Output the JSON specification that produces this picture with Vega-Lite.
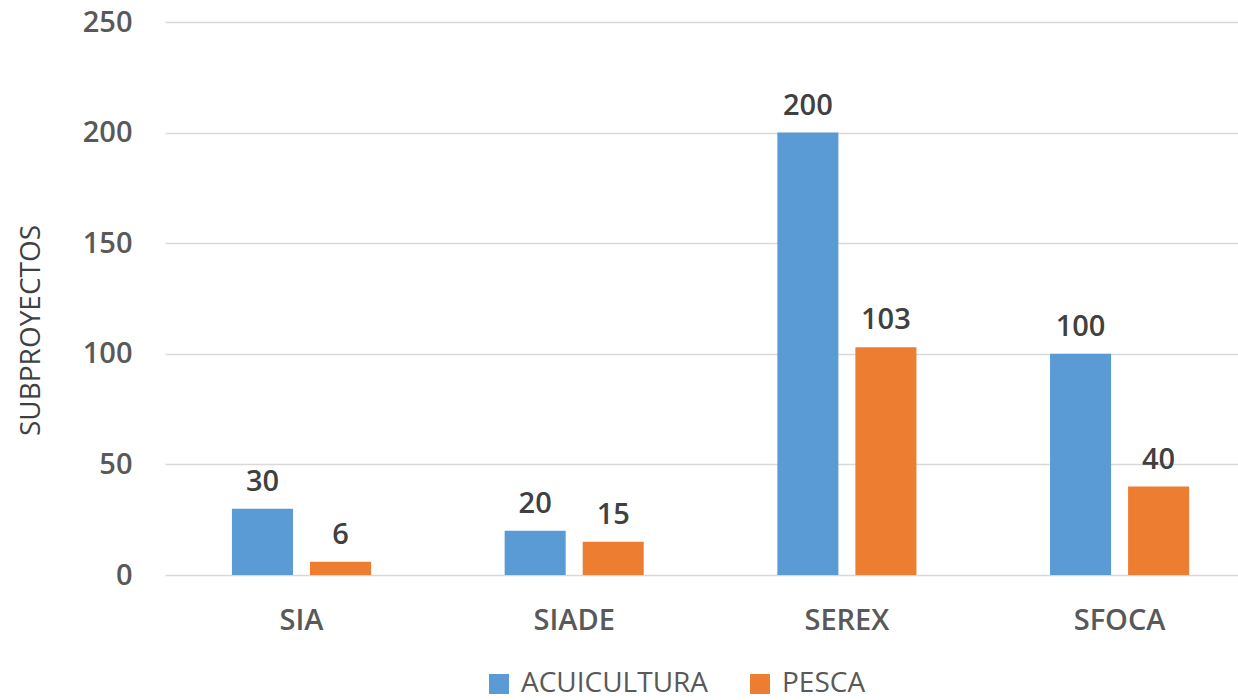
{
  "$schema": "https://vega.github.io/schema/vega-lite/v6.json",
  "width": 1073,
  "height": 553,
  "autosize": {"type": "none"},
  "padding": {"left": 165, "top": 22, "right": 0, "bottom": 125},
  "background": "white",
  "config": {"view": {"stroke": null}, "font": "Open Sans"},
  "data": {
    "values": [
      {"categoria": "SIA", "tipo": "ACUICULTURA", "valor": 30},
      {"categoria": "SIA", "tipo": "PESCA", "valor": 6},
      {"categoria": "SIADE", "tipo": "ACUICULTURA", "valor": 20},
      {"categoria": "SIADE", "tipo": "PESCA", "valor": 15},
      {"categoria": "SEREX", "tipo": "ACUICULTURA", "valor": 200},
      {"categoria": "SEREX", "tipo": "PESCA", "valor": 103},
      {"categoria": "SFOCA", "tipo": "ACUICULTURA", "valor": 100},
      {"categoria": "SFOCA", "tipo": "PESCA", "valor": 40}
    ]
  },
  "encoding": {
    "x": {
      "field": "categoria",
      "type": "nominal",
      "sort": ["SIA", "SIADE", "SEREX", "SFOCA"],
      "scale": {"paddingInner": 0.49, "paddingOuter": 0.2124, "align": 0.578},
      "axis": {
        "title": null,
        "labelAngle": 0,
        "domain": false,
        "ticks": false,
        "labelPadding": 31,
        "labelFont": "Open Sans",
        "labelFontSize": 29,
        "labelFontWeight": 600,
        "labelColor": "#595959"
      }
    },
    "xOffset": {
      "field": "tipo",
      "type": "nominal",
      "sort": ["ACUICULTURA", "PESCA"],
      "scale": {"paddingInner": 0.218, "paddingOuter": 0}
    },
    "y": {
      "field": "valor",
      "type": "quantitative",
      "scale": {"domain": [0, 250], "nice": false},
      "axis": {
        "values": [0, 50, 100, 150, 200, 250],
        "title": "SUBPROYECTOS",
        "titleFont": "Open Sans",
        "titleFontSize": 28,
        "titleFontWeight": "normal",
        "titleColor": "#404040",
        "titlePadding": 37,
        "titleY": 308,
        "domain": false,
        "ticks": false,
        "grid": true,
        "gridColor": "#D9D9D9",
        "gridWidth": 1.5,
        "labelPadding": 33,
        "labelFont": "Open Sans",
        "labelFontSize": 29,
        "labelFontWeight": 600,
        "labelColor": "#595959"
      }
    }
  },
  "layer": [
    {
      "mark": {"type": "bar"},
      "encoding": {
        "color": {
          "field": "tipo",
          "type": "nominal",
          "sort": ["ACUICULTURA", "PESCA"],
          "scale": {"domain": ["ACUICULTURA", "PESCA"], "range": ["#5B9BD5", "#ED7D31"]},
          "legend": {
            "title": null,
            "orient": "none",
            "direction": "horizontal",
            "legendX": 320,
            "legendY": 648,
            "symbolType": "square",
            "symbolSize": 400,
            "symbolStrokeWidth": 0,
            "labelFont": "Open Sans",
            "labelFontSize": 28,
            "labelColor": "#595959",
            "labelLimit": 500,
            "labelOffset": 8,
            "columnPadding": 37
          }
        }
      }
    },
    {
      "mark": {
        "type": "text",
        "baseline": "bottom",
        "dy": -12,
        "font": "Open Sans",
        "fontSize": 29,
        "fontWeight": 600,
        "color": "#404040"
      },
      "encoding": {
        "text": {"field": "valor", "type": "quantitative"}
      }
    }
  ]
}
